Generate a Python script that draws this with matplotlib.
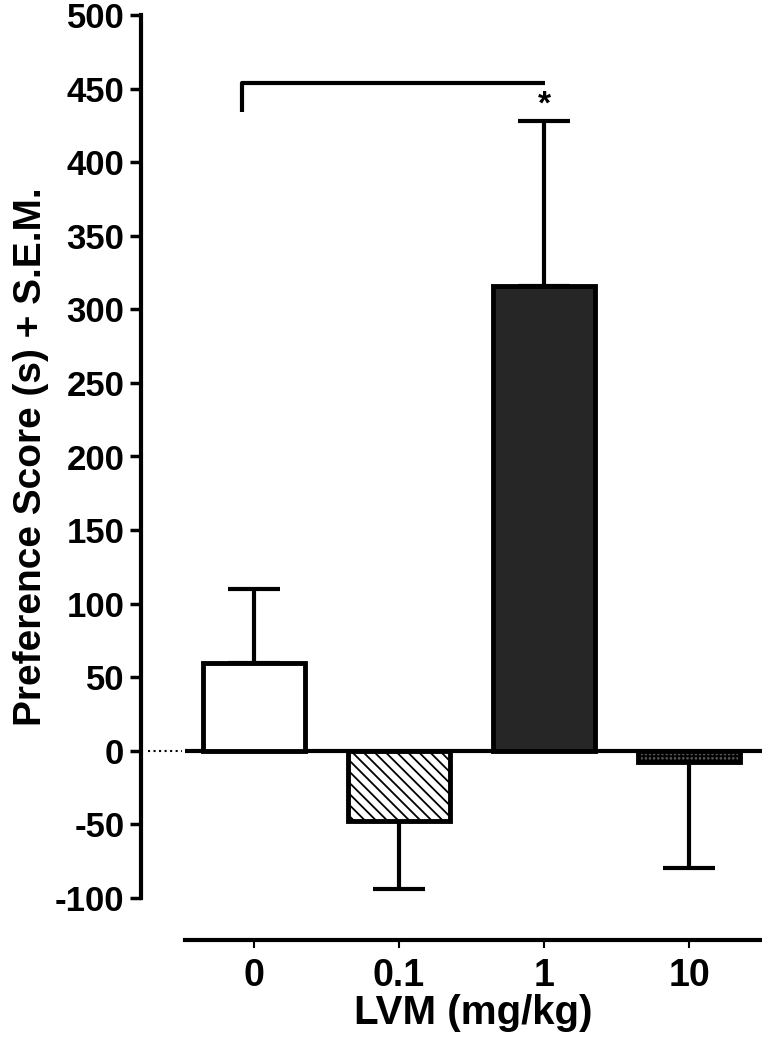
import matplotlib
matplotlib.use('Agg')
import matplotlib.pyplot as plt
import numpy as np

plt.rcParams['font.family'] = 'Liberation Sans'
plt.rcParams['font.weight'] = 'bold'
plt.rcParams['hatch.linewidth'] = 1.3
plt.rcParams['axes.unicode_minus'] = False

doses = ['0', '0.1', '1', '10']
means = [60, -48, 316, -7.5]
sems = [50, 46, 112, 72]
fills = ['white', 'white', '#262626', '#555555']
hatches = [None, '\\\\\\', None, '++++']

fig = plt.figure(figsize=(7.62, 10.5), dpi=100)
ax = fig.add_axes([185 / 762, 1 - 898 / 1050, 577 / 762, 883 / 1050])

x = np.arange(len(doses))
bars = ax.bar(x, means, width=0.70, color=fills, edgecolor='black', linewidth=3.5, zorder=3)
for b, h in zip(bars, hatches):
    if h:
        b.set_hatch(h)

# one-sided SEM, pointing away from zero
lower = [0 if m > 0 else s for m, s in zip(means, sems)]
upper = [s if m > 0 else 0 for m, s in zip(means, sems)]
ax.errorbar(x, means, yerr=[lower, upper], fmt='none', ecolor='black',
            elinewidth=3, capsize=19, capthick=3, zorder=2)

ax.axhline(0, color='black', linewidth=3, zorder=1)
ax.plot([-0.064, -0.005], [0, 0], color='black', linestyle=':', linewidth=1.5,
        transform=ax.get_yaxis_transform(), clip_on=False)

# significance bracket
ax.plot([-0.08, -0.08, 2.01], [434, 454, 454], color='black', linewidth=3,
        solid_capstyle='butt', clip_on=False)
ax.text(2.0, 428, '*', ha='center', va='bottom', fontsize=24, fontweight='bold')

ax.set_xlim(-0.476, 3.503)
ax.set_ylim(-100, 500)
ax.set_yticks(np.arange(-100, 501, 50))
ax.set_xticks(x)
ax.set_xticklabels(doses)

for s in ['top', 'right']:
    ax.spines[s].set_visible(False)
ax.spines['left'].set_position(('outward', 31.7))
ax.spines['bottom'].set_position(('outward', 30))
ax.spines['left'].set_linewidth(3)
ax.spines['bottom'].set_linewidth(3)

ax.tick_params(axis='y', direction='out', length=8, width=2.5, labelsize=25, pad=4)
ax.tick_params(axis='x', direction='out', length=6, width=1.5, labelsize=27, pad=7)

ax.set_ylabel('Preference Score (s) + S.E.M.', fontsize=28, fontweight='bold', labelpad=4)
ax.set_xlabel('LVM (mg/kg)', fontsize=29, fontweight='bold', labelpad=0)

fig.savefig('out.png', dpi=100)
